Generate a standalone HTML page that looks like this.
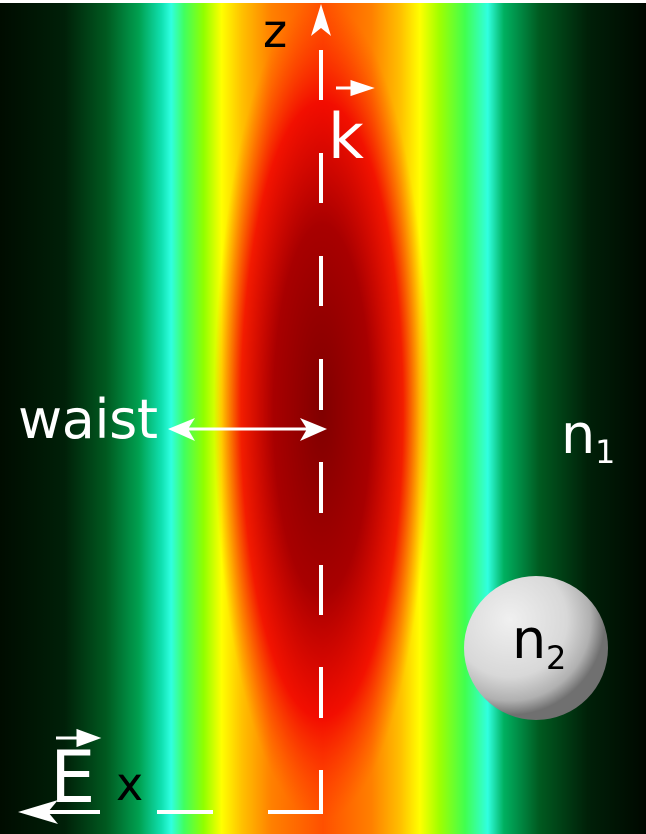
<!DOCTYPE html>
<html><head><meta charset="utf-8"><style>
html,body{margin:0;padding:0;background:#fff}
svg{display:block}
text{font-family:"DejaVu Sans","Liberation Sans",sans-serif}
</style></head><body>
<svg width="646" height="834" viewBox="0 0 646 834" xmlns="http://www.w3.org/2000/svg">
<defs>
<linearGradient id="beam" x1="0" y1="0" x2="646" y2="0" gradientUnits="userSpaceOnUse">
<stop offset="0" stop-color="#000c00"/>
<stop offset="0.1" stop-color="#002008"/>
<stop offset="0.165" stop-color="#005a20"/>
<stop offset="0.215" stop-color="#00a050"/>
<stop offset="0.25" stop-color="#10e0b0"/>
<stop offset="0.265" stop-color="#30ffe0"/>
<stop offset="0.285" stop-color="#40ff60"/>
<stop offset="0.315" stop-color="#90ff00"/>
<stop offset="0.343" stop-color="#ffff00"/>
<stop offset="0.375" stop-color="#ffc000"/>
<stop offset="0.42" stop-color="#ff8000"/>
<stop offset="0.5" stop-color="#ff5000"/>
<stop offset="0.575" stop-color="#ff8000"/>
<stop offset="0.62" stop-color="#ffc000"/>
<stop offset="0.65" stop-color="#ffff00"/>
<stop offset="0.68" stop-color="#a0ff00"/>
<stop offset="0.72" stop-color="#40ff50"/>
<stop offset="0.755" stop-color="#30ffe0"/>
<stop offset="0.78" stop-color="#00b060"/>
<stop offset="0.835" stop-color="#005a20"/>
<stop offset="0.91" stop-color="#002008"/>
<stop offset="1" stop-color="#000800"/>
</linearGradient>
<radialGradient id="core" cx="0.5" cy="0.5" r="0.5">
<stop offset="0" stop-color="#800000" stop-opacity="1"/>
<stop offset="0.45" stop-color="#a80000" stop-opacity="1"/>
<stop offset="0.75" stop-color="#f00000" stop-opacity="0.85"/>
<stop offset="1" stop-color="#ff3000" stop-opacity="0"/>
</radialGradient>
<radialGradient id="sphere" cx="510" cy="620" r="95" gradientUnits="userSpaceOnUse">
<stop offset="0" stop-color="#f0f0f0"/>
<stop offset="0.6" stop-color="#d8d8d8"/>
<stop offset="0.85" stop-color="#b0b0b0"/>
<stop offset="1" stop-color="#707070"/>
</radialGradient>
</defs>
<rect x="0" y="3" width="646" height="831" fill="url(#beam)"/>
<ellipse cx="322" cy="410" rx="108" ry="410" fill="url(#core)"/>
<g stroke="#fff" stroke-width="4" fill="none">
<path d="M321 50V100M321 153V203M321 256V306M321 359V410M321 462V513M321 565V615M321 667V718M321 770V812H268M213 812H157M100 812H45"/>
</g>
<path d="M321 4 L331 36 L321 28 L311 36Z" fill="#fff"/>
<path d="M18 812 L58 800 L48 812 L58 824Z" fill="#fff"/>
<text x="263" y="47" font-size="46" fill="#000">z</text>
<text x="116" y="800" font-size="46" fill="#000">x</text>
<text x="328" y="158" font-size="62" fill="#fff">k</text>
<path d="M336 88H360M352 82L370 88L352 94Z" stroke="#fff" stroke-width="3" fill="#fff"/>
<text x="50" y="802" font-size="72" fill="#fff">E</text>
<path d="M56 738H84M78 731L97 738L78 745Z" stroke="#fff" stroke-width="3" fill="#fff"/>
<text x="18" y="438" font-size="54" fill="#fff" textLength="140">waist</text>
<g fill="#fff" stroke="#fff">
<line x1="180" y1="429" x2="315" y2="429" stroke-width="3"/>
<path d="M168 429 L195 418 L188 429 L195 441Z" stroke="none"/>
<path d="M327 429 L300 418 L307 429 L300 441Z" stroke="none"/>
</g>
<text x="561" y="453" font-size="54" fill="#fff">n</text>
<text x="595" y="463" font-size="32" fill="#fff">1</text>
<circle cx="536" cy="648" r="72" fill="url(#sphere)"/>
<text x="512" y="658" font-size="54" fill="#000">n</text>
<text x="546" y="669" font-size="32" fill="#000">2</text>
</svg>
</body></html>
